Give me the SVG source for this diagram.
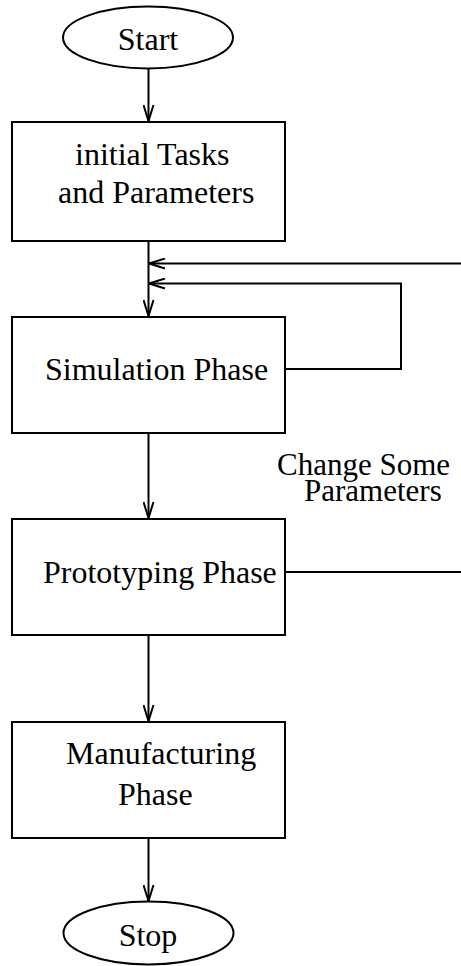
<svg xmlns="http://www.w3.org/2000/svg" width="461" height="966" viewBox="0 0 461 966">
<style>
.s{fill:#fff;stroke:#000;stroke-width:2}
.t{font-family:"Liberation Serif","Times New Roman",serif;font-size:32px;fill:#000}
.l{font-family:"Liberation Serif","Times New Roman",serif;font-size:31px;fill:#000}
.c{fill:none;stroke:#000;stroke-width:2}
</style>
<defs>
<marker id="ah" markerWidth="18" markerHeight="12" viewBox="0 0 18 12" refX="17" refY="6" orient="auto" markerUnits="userSpaceOnUse">
<path d="M1,1 L17,6 L1,11" fill="none" stroke="#000" stroke-width="2"/>
</marker>
</defs>
<rect width="461" height="966" fill="#fff"/>
<g id="connectors">
<line class="c" x1="148.5" y1="68" x2="148.5" y2="121" marker-end="url(#ah)"/>
<line class="c" x1="148.5" y1="241" x2="148.5" y2="316" marker-end="url(#ah)"/>
<line class="c" x1="461" y1="263.5" x2="149" y2="263.5" marker-end="url(#ah)"/>
<polyline class="c" points="285,369 401,369 401,283.5 149,283.5" marker-end="url(#ah)"/>
<line class="c" x1="148.5" y1="433" x2="148.5" y2="518" marker-end="url(#ah)"/>
<line class="c" x1="285" y1="572" x2="461" y2="572"/>
<line class="c" x1="148.5" y1="635" x2="148.5" y2="721" marker-end="url(#ah)"/>
<line class="c" x1="148.5" y1="838" x2="148.5" y2="901" marker-end="url(#ah)"/>
<text class="l" x="277" y="475">Change Some</text>
<text class="l" x="304" y="501">Parameters</text>
</g>
<g id="start">
<ellipse class="s" cx="148" cy="37.5" rx="85" ry="31"/>
<text class="t" x="148" y="50" text-anchor="middle">Start</text>
</g>
<g id="initial">
<rect class="s" x="12" y="122" width="273" height="119"/>
<text class="t" x="75" y="165">initial Tasks</text>
<text class="t" x="58" y="203">and Parameters</text>
</g>
<g id="simulation">
<rect class="s" x="12" y="317" width="273" height="116"/>
<text class="t" x="45" y="380">Simulation Phase</text>
</g>
<g id="prototyping">
<rect class="s" x="12" y="519" width="273" height="116"/>
<text class="t" x="43" y="583">Prototyping Phase</text>
</g>
<g id="manufacturing">
<rect class="s" x="12" y="722" width="273" height="116"/>
<text class="t" x="66" y="764">Manufacturing</text>
<text class="t" x="118" y="805">Phase</text>
</g>
<g id="stop">
<ellipse class="s" cx="148.5" cy="933" rx="85" ry="31.5"/>
<text class="t" x="148" y="946" text-anchor="middle">Stop</text>
</g>
</svg>
